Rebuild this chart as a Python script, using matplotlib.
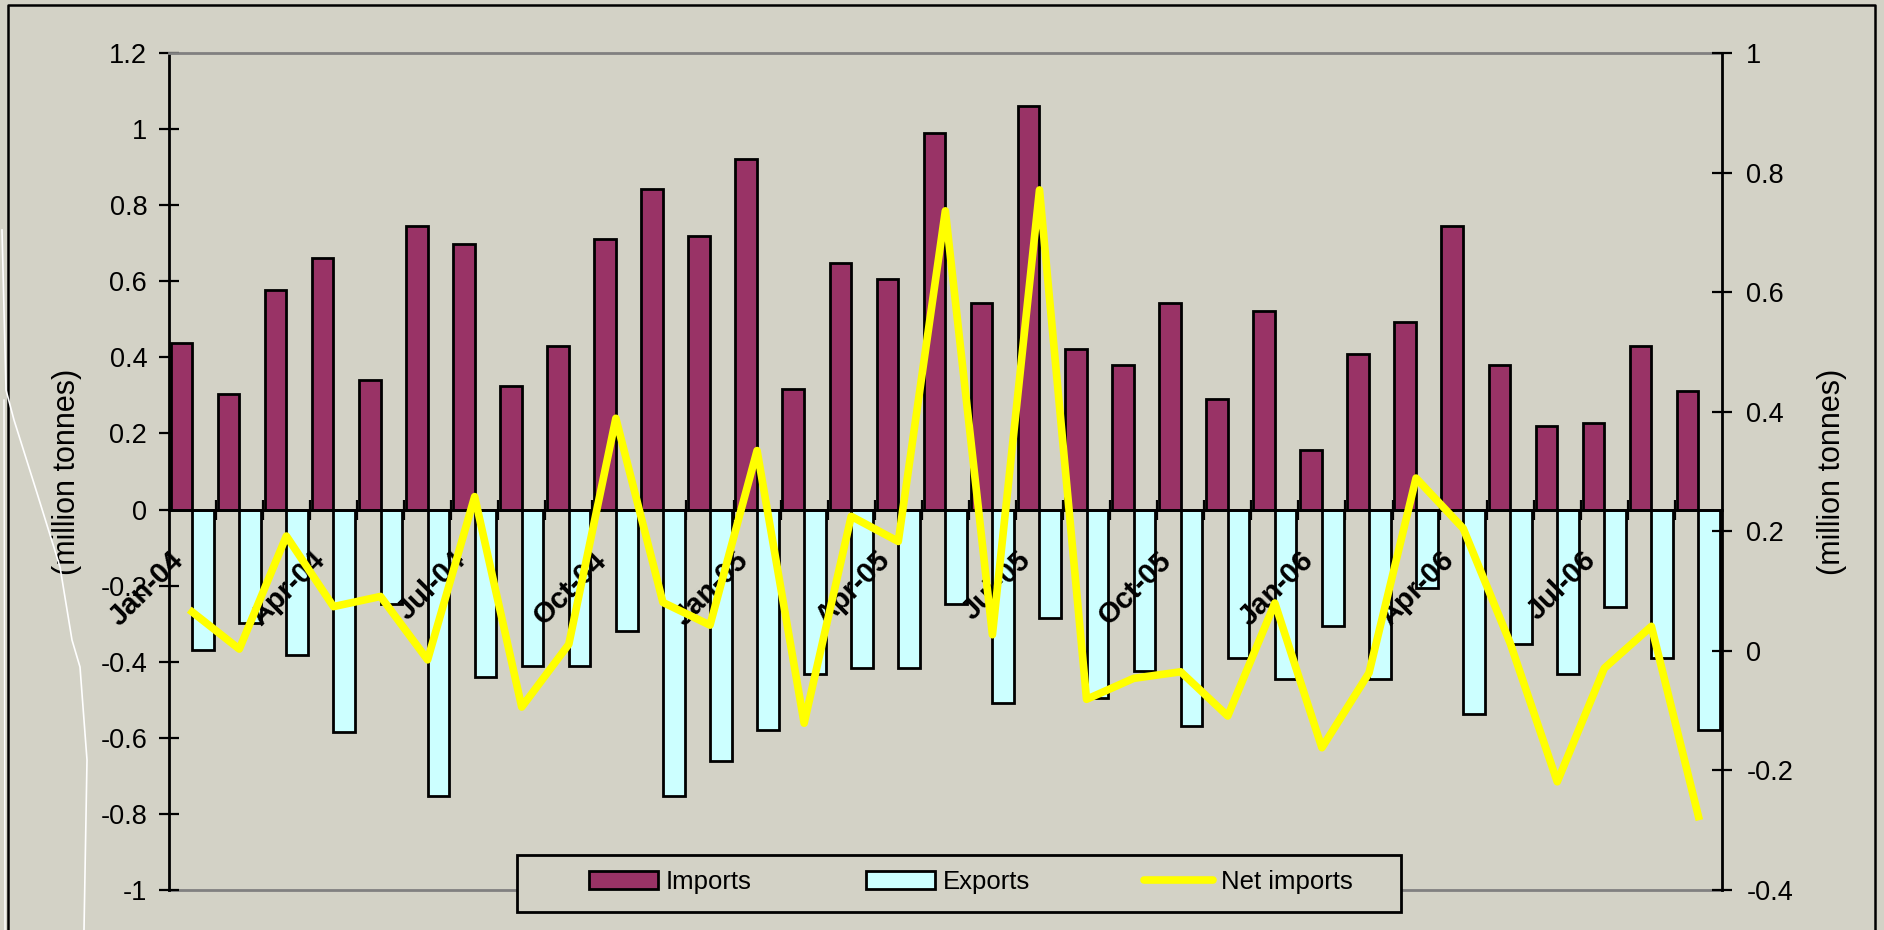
import matplotlib.pyplot as plt
import numpy as np
from matplotlib.patches import Patch, Rectangle
from matplotlib.lines import Line2D
from matplotlib.ticker import FuncFormatter

# Monthly categories, Jan-04 .. Sep-06
months = ['Jan-04', 'Feb-04', 'Mar-04', 'Apr-04', 'May-04', 'Jun-04', 'Jul-04', 'Aug-04',
          'Sep-04', 'Oct-04', 'Nov-04', 'Dec-04', 'Jan-05', 'Feb-05', 'Mar-05', 'Apr-05',
          'May-05', 'Jun-05', 'Jul-05', 'Aug-05', 'Sep-05', 'Oct-05', 'Nov-05', 'Dec-05',
          'Jan-06', 'Feb-06', 'Mar-06', 'Apr-06', 'May-06', 'Jun-06', 'Jul-06', 'Aug-06',
          'Sep-06']

# million tonnes (left axis)
imports = [0.438, 0.304, 0.578, 0.662, 0.340, 0.745, 0.698, 0.325, 0.430, 0.711, 0.843,
           0.719, 0.921, 0.318, 0.647, 0.605, 0.990, 0.542, 1.060, 0.423, 0.381, 0.542,
           0.290, 0.521, 0.156, 0.409, 0.493, 0.745, 0.381, 0.220, 0.227, 0.430, 0.312]
exports = [-0.369, -0.299, -0.382, -0.586, -0.249, -0.754, -0.439, -0.411, -0.411, -0.320,
           -0.754, -0.662, -0.579, -0.432, -0.417, -0.417, -0.249, -0.509, -0.284, -0.496,
           -0.424, -0.570, -0.391, -0.446, -0.305, -0.446, -0.205, -0.537, -0.354, -0.432,
           -0.255, -0.391, -0.579]

# million tonnes (right axis)
net_imports = [0.065, 0.003, 0.192, 0.074, 0.091, -0.015, 0.258, -0.094, 0.011, 0.389,
               0.081, 0.043, 0.335, -0.121, 0.225, 0.183, 0.736, 0.027, 0.771, -0.081,
               -0.046, -0.035, -0.109, 0.080, -0.162, -0.037, 0.289, 0.205, 0.013, -0.219,
               -0.029, 0.041, -0.277]

left_ticks = [-1, -0.8, -0.6, -0.4, -0.2, 0, 0.2, 0.4, 0.6, 0.8, 1, 1.2]
right_ticks = [-0.4, -0.2, 0, 0.2, 0.4, 0.6, 0.8, 1]

bg = '#D3D2C6'
imp_col = '#993366'
exp_col = '#CCFFFF'
net_col = '#FFFF00'

plt.rcParams['font.family'] = ['Liberation Sans', 'DejaVu Sans']

W, H = 1884, 930
fig = plt.figure(figsize=(W / 100, H / 100), dpi=100, facecolor=bg)
ax = fig.add_axes([168.7 / W, 1 - 890 / H, 1553.3 / W, 837 / H])
ax.set_facecolor(bg)

x = np.arange(len(months))
w = 0.46
ax.bar(x - w / 2, imports, w, color=imp_col, edgecolor='black', linewidth=2, zorder=2)
ax.bar(x + w / 2, exports, w, color=exp_col, edgecolor='black', linewidth=2, zorder=2)

ax.set_xlim(-0.5, len(months) - 0.5)
ax.set_ylim(-1, 1.2)
ax.set_yticks(left_ticks)
fmt = FuncFormatter(lambda v, p: f'{round(v, 1) + 0:g}')
ax.yaxis.set_major_formatter(fmt)

# category axis crosses at zero, ticks between categories
ax.spines['bottom'].set_position(('data', 0))
ax.spines['bottom'].set_linewidth(2)
ax.spines['left'].set_linewidth(2)
ax.spines['top'].set_color('#808080')
ax.spines['top'].set_linewidth(2)
ax.spines['right'].set_visible(False)
ax.axhline(-1, color='#808080', lw=2, clip_on=False, zorder=1)
ax.set_xticks(np.arange(0.5, len(months) - 1, 1))
ax.tick_params(axis='x', direction='inout', length=15, width=1.6, labelbottom=False)
ax.tick_params(axis='y', direction='inout', length=15, width=1.6, labelsize=19.5, pad=8)

for i in range(0, len(months), 3):
    ax.text(i - 0.49, -0.097, months[i], rotation=45, rotation_mode='anchor',
            ha='right', va='top', fontsize=21, fontweight='bold', zorder=3)

ax.set_ylabel('(million tonnes)', fontsize=22)
ax.yaxis.set_label_coords(-0.0655, 0.5)
ax.yaxis.label.set_va('center')

ax2 = ax.twinx()
ax2.plot(x, net_imports, color=net_col, lw=5.5, zorder=4)
ax2.set_ylim(-0.4, 1.0)
ax2.set_yticks(right_ticks)
ax2.yaxis.set_major_formatter(fmt)
for s in ['top', 'bottom', 'left']:
    ax2.spines[s].set_visible(False)
ax2.spines['right'].set_linewidth(2)
ax2.tick_params(axis='y', direction='inout', length=15, width=1.6, labelsize=19.5, pad=10)
ax2.set_ylabel('(million tonnes)', fontsize=22)
ax2.yaxis.set_label_coords(1.0708, 0.5)
ax2.yaxis.label.set_va('center')

# legend box
fig.add_artist(Rectangle((517 / W, 1 - 912 / H), 884 / W, 57 / H, transform=fig.transFigure,
                         facecolor=bg, edgecolor='black', lw=2, zorder=3))
handles = [Patch(facecolor=imp_col, edgecolor='black', lw=2),
           Patch(facecolor=exp_col, edgecolor='black', lw=2),
           Line2D([0], [0], color=net_col, lw=5.5, solid_capstyle='round')]
fig.legend(handles, ['Imports', 'Exports', 'Net imports'], loc='center left',
           bbox_to_anchor=(576 / W, 1 - 882 / H), ncol=3, frameon=False, borderpad=0,
           handlelength=2.68, handleheight=0.7, handletextpad=0.31, columnspacing=4.45,
           fontsize=18.5)

# outer frame and the white scan marks on the left
fig.add_artist(Line2D([8 / W, 8 / W, 1875 / W, 1875 / W], [0, 1 - 5 / H, 1 - 5 / H, 0],
                      color='black', lw=1.8, transform=fig.transFigure))
cx = [2, 6, 14, 37, 60, 72, 80, 87, 84]
cy = [230, 390, 420, 493, 567, 640, 667, 760, 930]
fig.add_artist(Line2D([v / W for v in cx], [1 - v / H for v in cy], color='white', lw=1.2,
                      transform=fig.transFigure))
fig.add_artist(Line2D([4 / W, 5 / W], [1 - 400 / H, 0], color='white', lw=1.0,
                      transform=fig.transFigure))

fig.savefig('out.png', dpi=100, facecolor=bg)
